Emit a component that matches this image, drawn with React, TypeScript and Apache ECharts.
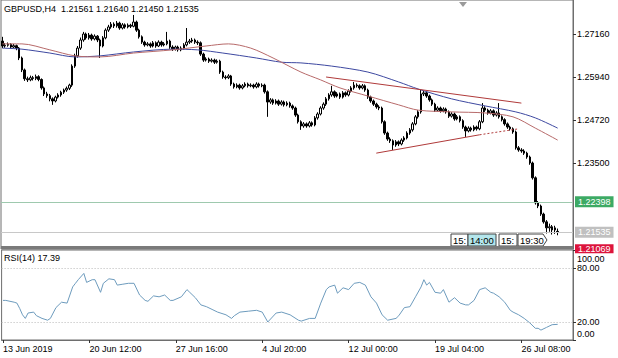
import React, { useEffect, useRef } from "react";
import * as echarts from "echarts";

const symbolTitle = "GBPUSD,H4  1.21561 1.21640 1.21450 1.21535";
const rsiTitle = "RSI(14) 17.39";

const tickIndex = [0, 31, 62, 93, 124, 155, 186];
const tickLabels = ["13 Jun 2019", "20 Jun 12:00", "27 Jun 16:00", "4 Jul 20:00", "12 Jul 00:00", "19 Jul 04:00", "26 Jul 08:00"];
const priceTicks = [1.235, 1.2472, 1.2594, 1.2716];
const rsiTicks = [0, 20, 80, 100];
const rsiLevels = [20, 80];

const levelPrice = 1.22398;
const bidPrice = 1.21535;
const lowPrice = 1.21069;

const slotCount = 205;

// [open, close, low, high]
const candles: number[][] = [
  [1.2696, 1.2682, 1.2676, 1.2708], [1.2682, 1.2684, 1.2677, 1.2690], [1.2684, 1.2687, 1.2680, 1.2692], [1.2687, 1.2679, 1.2675, 1.2690],
  [1.2679, 1.2683, 1.2676, 1.2688], [1.2683, 1.2676, 1.2670, 1.2686], [1.2676, 1.2648, 1.2642, 1.2679], [1.2648, 1.2614, 1.2608, 1.2652],
  [1.2614, 1.2589, 1.2583, 1.2618], [1.2589, 1.2586, 1.2580, 1.2595], [1.2586, 1.2592, 1.2582, 1.2598], [1.2592, 1.2590, 1.2584, 1.2597],
  [1.2590, 1.2595, 1.2585, 1.2601], [1.2595, 1.2587, 1.2582, 1.2599], [1.2587, 1.2563, 1.2558, 1.2590], [1.2563, 1.2546, 1.2540, 1.2567],
  [1.2546, 1.2541, 1.2535, 1.2552], [1.2541, 1.2532, 1.2525, 1.2546], [1.2532, 1.2526, 1.2515, 1.2536], [1.2526, 1.2537, 1.2522, 1.2541],
  [1.2537, 1.2543, 1.2533, 1.2548], [1.2543, 1.2551, 1.2538, 1.2555], [1.2551, 1.2557, 1.2546, 1.2561], [1.2557, 1.2562, 1.2552, 1.2567],
  [1.2562, 1.2571, 1.2557, 1.2575], [1.2571, 1.2625, 1.2566, 1.2630], [1.2625, 1.2654, 1.2620, 1.2660], [1.2654, 1.2676, 1.2649, 1.2682],
  [1.2676, 1.2699, 1.2671, 1.2706], [1.2699, 1.2716, 1.2694, 1.2722], [1.2716, 1.2705, 1.2700, 1.2720], [1.2705, 1.2713, 1.2700, 1.2719],
  [1.2713, 1.2702, 1.2697, 1.2717], [1.2702, 1.2710, 1.2698, 1.2715], [1.2710, 1.2699, 1.2693, 1.2713], [1.2699, 1.2682, 1.2648, 1.2703],
  [1.2682, 1.2705, 1.2678, 1.2710], [1.2705, 1.2727, 1.2701, 1.2732], [1.2727, 1.2736, 1.2722, 1.2742], [1.2736, 1.2744, 1.2731, 1.2750],
  [1.2744, 1.2739, 1.2733, 1.2749], [1.2739, 1.2747, 1.2734, 1.2753], [1.2747, 1.2733, 1.2728, 1.2751], [1.2733, 1.2742, 1.2729, 1.2747],
  [1.2742, 1.2736, 1.2731, 1.2746], [1.2736, 1.2741, 1.2732, 1.2746], [1.2741, 1.2738, 1.2733, 1.2745], [1.2738, 1.2750, 1.2735, 1.2770],
  [1.2750, 1.2727, 1.2722, 1.2754], [1.2727, 1.2708, 1.2703, 1.2731], [1.2708, 1.2693, 1.2688, 1.2712], [1.2693, 1.2685, 1.2680, 1.2697],
  [1.2685, 1.2688, 1.2681, 1.2693], [1.2688, 1.2682, 1.2677, 1.2692], [1.2682, 1.2691, 1.2678, 1.2696], [1.2691, 1.2682, 1.2677, 1.2695],
  [1.2682, 1.2693, 1.2679, 1.2698], [1.2693, 1.2685, 1.2680, 1.2697], [1.2685, 1.2688, 1.2681, 1.2693], [1.2688, 1.2696, 1.2684, 1.2722],
  [1.2696, 1.2679, 1.2674, 1.2700], [1.2679, 1.2673, 1.2668, 1.2684], [1.2673, 1.2679, 1.2669, 1.2683], [1.2679, 1.2671, 1.2666, 1.2683],
  [1.2671, 1.2676, 1.2667, 1.2681], [1.2676, 1.2685, 1.2672, 1.2690], [1.2685, 1.2693, 1.2681, 1.2733], [1.2693, 1.2696, 1.2688, 1.2702],
  [1.2696, 1.2699, 1.2691, 1.2705], [1.2699, 1.2693, 1.2688, 1.2703], [1.2693, 1.2691, 1.2685, 1.2698], [1.2691, 1.2659, 1.2654, 1.2695],
  [1.2659, 1.2642, 1.2637, 1.2663], [1.2642, 1.2645, 1.2638, 1.2650], [1.2645, 1.2639, 1.2634, 1.2649], [1.2639, 1.2642, 1.2635, 1.2647],
  [1.2642, 1.2636, 1.2631, 1.2646], [1.2636, 1.2639, 1.2632, 1.2644], [1.2639, 1.2608, 1.2603, 1.2643], [1.2608, 1.2594, 1.2589, 1.2612],
  [1.2594, 1.2592, 1.2587, 1.2599], [1.2592, 1.2597, 1.2588, 1.2602], [1.2597, 1.2574, 1.2569, 1.2600], [1.2574, 1.2566, 1.2561, 1.2578],
  [1.2566, 1.2571, 1.2562, 1.2576], [1.2571, 1.2563, 1.2558, 1.2575], [1.2563, 1.2569, 1.2559, 1.2574], [1.2569, 1.2574, 1.2565, 1.2579],
  [1.2574, 1.2569, 1.2564, 1.2578], [1.2569, 1.2571, 1.2565, 1.2576], [1.2571, 1.2566, 1.2561, 1.2575], [1.2566, 1.2574, 1.2562, 1.2579],
  [1.2574, 1.2569, 1.2564, 1.2578], [1.2569, 1.2571, 1.2565, 1.2576], [1.2571, 1.2552, 1.2547, 1.2575], [1.2552, 1.2523, 1.2481, 1.2556],
  [1.2523, 1.2529, 1.2518, 1.2534], [1.2529, 1.2520, 1.2515, 1.2533], [1.2520, 1.2526, 1.2516, 1.2531], [1.2526, 1.2517, 1.2512, 1.2530],
  [1.2517, 1.2523, 1.2513, 1.2528], [1.2523, 1.2515, 1.2510, 1.2527], [1.2515, 1.2520, 1.2511, 1.2525], [1.2520, 1.2512, 1.2507, 1.2524],
  [1.2512, 1.2506, 1.2501, 1.2516], [1.2506, 1.2486, 1.2481, 1.2510], [1.2486, 1.2467, 1.2462, 1.2490], [1.2467, 1.2455, 1.2444, 1.2471],
  [1.2455, 1.2461, 1.2450, 1.2466], [1.2461, 1.2455, 1.2450, 1.2465], [1.2455, 1.2464, 1.2451, 1.2469], [1.2464, 1.2458, 1.2453, 1.2468],
  [1.2458, 1.2478, 1.2454, 1.2483], [1.2478, 1.2489, 1.2473, 1.2494], [1.2489, 1.2506, 1.2485, 1.2511], [1.2506, 1.2517, 1.2501, 1.2522],
  [1.2517, 1.2532, 1.2512, 1.2537], [1.2532, 1.2543, 1.2527, 1.2548], [1.2543, 1.2552, 1.2538, 1.2569], [1.2552, 1.2540, 1.2535, 1.2556],
  [1.2540, 1.2546, 1.2536, 1.2551], [1.2546, 1.2537, 1.2532, 1.2550], [1.2537, 1.2549, 1.2533, 1.2554], [1.2549, 1.2543, 1.2538, 1.2553],
  [1.2543, 1.2554, 1.2539, 1.2559], [1.2554, 1.2563, 1.2550, 1.2568], [1.2563, 1.2571, 1.2558, 1.2580], [1.2571, 1.2569, 1.2564, 1.2576],
  [1.2569, 1.2563, 1.2558, 1.2573], [1.2563, 1.2569, 1.2559, 1.2574], [1.2569, 1.2557, 1.2552, 1.2573], [1.2557, 1.2537, 1.2532, 1.2561],
  [1.2537, 1.2526, 1.2521, 1.2541], [1.2526, 1.2517, 1.2512, 1.2530], [1.2517, 1.2509, 1.2504, 1.2521], [1.2509, 1.2506, 1.2500, 1.2514],
  [1.2506, 1.2467, 1.2462, 1.2510], [1.2467, 1.2435, 1.2430, 1.2471], [1.2435, 1.2418, 1.2413, 1.2439], [1.2418, 1.2413, 1.2407, 1.2423],
  [1.2413, 1.2401, 1.2387, 1.2417], [1.2401, 1.2410, 1.2396, 1.2415], [1.2410, 1.2404, 1.2398, 1.2414], [1.2404, 1.2415, 1.2400, 1.2420],
  [1.2415, 1.2421, 1.2410, 1.2426], [1.2421, 1.2435, 1.2417, 1.2440], [1.2435, 1.2444, 1.2430, 1.2449], [1.2444, 1.2461, 1.2439, 1.2466],
  [1.2461, 1.2481, 1.2457, 1.2486], [1.2481, 1.2495, 1.2476, 1.2500], [1.2495, 1.2546, 1.2490, 1.2557], [1.2546, 1.2549, 1.2540, 1.2555],
  [1.2549, 1.2540, 1.2535, 1.2553], [1.2540, 1.2529, 1.2524, 1.2544], [1.2529, 1.2517, 1.2512, 1.2533], [1.2517, 1.2500, 1.2495, 1.2521],
  [1.2500, 1.2506, 1.2496, 1.2511], [1.2506, 1.2498, 1.2493, 1.2510], [1.2498, 1.2503, 1.2494, 1.2508], [1.2503, 1.2495, 1.2490, 1.2507],
  [1.2495, 1.2483, 1.2478, 1.2499], [1.2483, 1.2489, 1.2479, 1.2494], [1.2489, 1.2475, 1.2470, 1.2493], [1.2475, 1.2481, 1.2471, 1.2486],
  [1.2481, 1.2470, 1.2465, 1.2485], [1.2470, 1.2452, 1.2447, 1.2474], [1.2452, 1.2441, 1.2424, 1.2456], [1.2441, 1.2449, 1.2437, 1.2454],
  [1.2449, 1.2444, 1.2439, 1.2453], [1.2444, 1.2452, 1.2440, 1.2457], [1.2452, 1.2447, 1.2442, 1.2456], [1.2447, 1.2467, 1.2443, 1.2472],
  [1.2467, 1.2506, 1.2463, 1.2520], [1.2506, 1.2500, 1.2495, 1.2511], [1.2500, 1.2492, 1.2487, 1.2504], [1.2492, 1.2498, 1.2488, 1.2503],
  [1.2498, 1.2486, 1.2481, 1.2502], [1.2486, 1.2492, 1.2482, 1.2497], [1.2492, 1.2481, 1.2476, 1.2520], [1.2481, 1.2473, 1.2468, 1.2485],
  [1.2473, 1.2461, 1.2456, 1.2477], [1.2461, 1.2452, 1.2447, 1.2465], [1.2452, 1.2447, 1.2442, 1.2456], [1.2447, 1.2438, 1.2433, 1.2451],
  [1.2438, 1.2393, 1.2388, 1.2442], [1.2393, 1.2387, 1.2382, 1.2398], [1.2387, 1.2384, 1.2379, 1.2392], [1.2384, 1.2378, 1.2373, 1.2389],
  [1.2378, 1.2367, 1.2362, 1.2382], [1.2367, 1.2350, 1.2345, 1.2371], [1.2350, 1.2308, 1.2303, 1.2354], [1.2308, 1.2237, 1.2232, 1.2312],
  [1.2237, 1.2228, 1.2222, 1.2242], [1.2228, 1.2205, 1.2200, 1.2232], [1.2205, 1.2183, 1.2178, 1.2209], [1.2183, 1.2166, 1.2150, 1.2188],
  [1.2166, 1.2169, 1.2155, 1.2178], [1.2169, 1.2160, 1.2147, 1.2174], [1.2160, 1.2166, 1.2149, 1.2172], [1.21561, 1.21535, 1.2145, 1.2164],
];

// moving averages: [bar index, price]
const maFast: number[][] = [
  [0, 1.2688], [7, 1.2688], [17, 1.2671], [26, 1.2654], [35, 1.2651], [47, 1.2662], [61, 1.2671], [73, 1.2682],
  [81, 1.2688], [89, 1.2676], [97, 1.2648], [107, 1.2608], [114, 1.2586], [121, 1.2563], [131, 1.2540], [142, 1.2515],
  [149, 1.2500], [161, 1.2495], [173, 1.2492], [183, 1.2481], [191, 1.2449], [199, 1.2415],
];
const maSlow: number[][] = [
  [0, 1.2676], [7, 1.2673], [17, 1.2662], [26, 1.2651], [35, 1.2654], [47, 1.2665], [61, 1.2673], [70, 1.2671],
  [79, 1.2662], [91, 1.2648], [100, 1.2636], [107, 1.2634], [118, 1.2625], [131, 1.2608], [142, 1.2580], [149, 1.2560],
  [161, 1.2532], [173, 1.2512], [184, 1.2495], [191, 1.2478], [199, 1.2449],
];

// trend lines: [startIndex, startPrice, endIndex, endPrice]
const upperTrend = [116, 1.2594, 186, 1.2520];
const lowerTrend = [134, 1.2378, 171, 1.2430];
const lowerTrendExt = [171, 1.2430, 185, 1.2447];

// RSI(14): [bar index, value]
const rsiPoints: number[][] = [
  [0, 44], [1, 44], [4, 42], [5, 41], [6, 35], [7, 28], [8, 24], [9, 30], [11, 31], [12, 27], [14, 24], [16, 22],
  [17, 24], [19, 36], [21, 42], [23, 41], [25, 59], [26, 63], [27, 67], [29, 74], [30, 64], [32, 67], [33, 67],
  [35, 53], [36, 63], [38, 68], [40, 67], [41, 61], [43, 62], [45, 63], [47, 63], [49, 50], [51, 44], [52, 43],
  [54, 49], [56, 48], [58, 50], [60, 44], [61, 44], [64, 48], [66, 56], [67, 53], [69, 47], [71, 39], [73, 37],
  [75, 34], [77, 31], [80, 28], [82, 24], [83, 27], [85, 31], [88, 32], [91, 33], [93, 31], [95, 20], [98, 30],
  [100, 31], [103, 28], [106, 22], [107, 21], [110, 24], [112, 24], [114, 41], [116, 56], [117, 59], [119, 61],
  [120, 52], [122, 58], [124, 56], [126, 63], [128, 64], [130, 61], [132, 48], [134, 41], [136, 28], [138, 22],
  [141, 24], [142, 27], [144, 36], [146, 37], [148, 48], [150, 59], [151, 67], [152, 61], [153, 64], [155, 53],
  [157, 52], [158, 56], [160, 42], [162, 47], [164, 41], [166, 39], [167, 39], [169, 44], [171, 56], [173, 58],
  [175, 53], [176, 52], [178, 48], [180, 42], [182, 33], [183, 31], [185, 28], [187, 24], [189, 19], [191, 13],
  [192, 13], [193, 11], [195, 14], [197, 17], [199, 17.39],
];

const categories: string[] = [];
{
  let t = Date.UTC(2019, 5, 13, 8);
  while (categories.length < slotCount) {
    const d = new Date(t);
    const wd = d.getUTCDay();
    if (wd !== 0 && wd !== 6) categories.push(d.toISOString().slice(0, 16));
    t += 4 * 3600 * 1000;
  }
}

const FONT = "'Liberation Sans', Arial, sans-serif";

export default function App() {
  const ref = useRef<HTMLDivElement>(null);
  useEffect(() => {
    if (!ref.current) return;
    const chart = echarts.init(ref.current, undefined, { renderer: "svg" });
    const trendStyle = { color: "#b03a3a", width: 1, type: "solid" as const };
    const labelBox = (bg: string, txt: string, pad: number[]) => ({
      show: true,
      position: "end" as const,
      formatter: txt,
      backgroundColor: bg,
      color: "#ffffff",
      padding: pad,
      fontSize: 9,
      fontFamily: FONT,
      distance: 2,
    });
    const option: any = {
      animation: false,
      backgroundColor: "#ffffff",
      grid: [
        { left: 1, right: 45, top: 0, height: 249, show: true, borderColor: "#6e6e6e", borderWidth: 1 },
        { left: 1, right: 45, top: 250, height: 90, show: true, borderColor: "#6e6e6e", borderWidth: 1 },
      ],
      xAxis: [
        { type: "category", gridIndex: 0, data: categories, boundaryGap: true, show: false },
        {
          type: "category",
          gridIndex: 1,
          data: categories,
          boundaryGap: true,
          axisLine: { show: true, lineStyle: { color: "#6e6e6e" } },
          axisTick: {
            show: true,
            interval: (i: number) => tickIndex.includes(i),
            alignWithLabel: true,
            length: 3,
            lineStyle: { color: "#333" },
          },
          axisLabel: {
            interval: (i: number) => tickIndex.includes(i),
            formatter: (_v: string, i: number) => {
              const k = tickIndex.indexOf(i);
              return k >= 0 ? tickLabels[k] : "";
            },
            align: "left",
            color: "#000",
            fontSize: 9,
            fontFamily: FONT,
            margin: 4,
          },
          splitLine: { show: false },
        },
      ],
      yAxis: [
        {
          type: "value",
          gridIndex: 0,
          position: "right",
          min: 1.2106,
          max: 1.28125,
          splitLine: { show: false },
          axisLine: { show: true, lineStyle: { color: "#6e6e6e" } },
          axisTick: { show: true, customValues: priceTicks, length: 3, lineStyle: { color: "#333" } },
          axisLabel: {
            customValues: priceTicks,
            formatter: (v: number) => v.toFixed(5),
            color: "#000",
            fontSize: 9,
            fontFamily: FONT,
            margin: 4,
          },
        },
        {
          type: "value",
          gridIndex: 1,
          position: "right",
          min: 0,
          max: 100,
          splitLine: { show: false },
          axisLine: { show: true, lineStyle: { color: "#6e6e6e" } },
          axisTick: { show: true, customValues: rsiTicks, length: 3, lineStyle: { color: "#333" } },
          axisLabel: {
            customValues: rsiTicks,
            formatter: (v: number) =>
              v === 100 ? "{t|100.00}" : v === 0 ? "{b|0.00}" : v.toFixed(2),
            color: "#000",
            fontSize: 9,
            fontFamily: FONT,
            margin: 4,
            rich: {
              t: { padding: [18, 0, 0, 0], fontSize: 9, fontFamily: FONT, color: "#000" },
              b: { padding: [0, 0, 12, 0], fontSize: 9, fontFamily: FONT, color: "#000" },
            },
          },
        },
      ],
      series: [
        {
          type: "candlestick",
          xAxisIndex: 0,
          yAxisIndex: 0,
          data: candles,
          barWidth: 2,
          itemStyle: {
            color: "#ffffff",
            color0: "#000000",
            borderColor: "#000000",
            borderColor0: "#000000",
            borderWidth: 1,
          },
          z: 3,
          markLine: {
            symbol: ["none", "none"],
            silent: true,
            animation: false,
            precision: 5,
            data: [
              { yAxis: levelPrice, lineStyle: { color: "#9ec9ae", width: 1, type: "solid" }, label: labelBox("#3daa64", levelPrice.toFixed(5), [1, 3, 1, 3]) },
              { yAxis: bidPrice, lineStyle: { color: "#c8c8c8", width: 1, type: "solid" }, label: labelBox("#c0c0c0", bidPrice.toFixed(5), [1, 3, 1, 3]) },
              { yAxis: lowPrice, lineStyle: { color: "rgba(0,0,0,0)", width: 1, type: "solid" }, label: labelBox("#dc143c", lowPrice.toFixed(5), [0, 3, 0, 3]) },
              [
                { coord: [upperTrend[0], upperTrend[1]], lineStyle: trendStyle, label: { show: false } },
                { coord: [upperTrend[2], upperTrend[3]] },
              ],
              [
                { coord: [lowerTrend[0], lowerTrend[1]], lineStyle: trendStyle, label: { show: false } },
                { coord: [lowerTrend[2], lowerTrend[3]] },
              ],
              [
                { coord: [lowerTrendExt[0], lowerTrendExt[1]], lineStyle: { color: "#b03a3a", width: 1, type: [2, 2] }, label: { show: false } },
                { coord: [lowerTrendExt[2], lowerTrendExt[3]] },
              ],
            ],
          },
        },
        {
          type: "line",
          xAxisIndex: 0,
          yAxisIndex: 0,
          data: maSlow,
          showSymbol: false,
          smooth: 0.3,
          lineStyle: { color: "#3d48a0", width: 1 },
          z: 4,
        },
        {
          type: "line",
          xAxisIndex: 0,
          yAxisIndex: 0,
          data: maFast,
          showSymbol: false,
          smooth: 0.3,
          lineStyle: { color: "#b76a6a", width: 1 },
          z: 4,
        },
        {
          type: "line",
          xAxisIndex: 1,
          yAxisIndex: 1,
          data: rsiPoints,
          showSymbol: false,
          lineStyle: { color: "#6d9bbd", width: 1 },
          markLine: {
            symbol: ["none", "none"],
            silent: true,
            animation: false,
            label: { show: false },
            data: rsiLevels.map((v) => ({ yAxis: v, lineStyle: { color: "#b8b8b8", width: 1, type: [1, 2] } })),
          },
        },
      ],
      graphic: [
        { type: "rect", z: 1, shape: { x: 1, y: 246, width: 572, height: 3 }, style: { fill: "#7a7a7a" } },
        { type: "text", z: 50, left: 4, top: 4, style: { text: symbolTitle, fontSize: 9, fontFamily: FONT, fill: "#000" } },
        { type: "text", z: 50, left: 4, top: 253, style: { text: rsiTitle, fontSize: 9, fontFamily: FONT, fill: "#000" } },
        { type: "polygon", z: 50, shape: { points: [[459, 2], [467, 2], [463, 7]] }, style: { fill: "#9a9a9a" } },
        {
          type: "group",
          z: 60,
          children: [
            { type: "rect", shape: { x: 451, y: 234, width: 17, height: 12 }, style: { fill: "#ffffff", stroke: "#444", lineWidth: 1 } },
            { type: "text", x: 453, y: 240, style: { text: "15:", fontSize: 9.5, fontFamily: FONT, fill: "#000", verticalAlign: "middle" } },
            { type: "rect", shape: { x: 468, y: 234, width: 28, height: 12 }, style: { fill: "#b4e6ec", stroke: "#444", lineWidth: 1 } },
            { type: "text", x: 470, y: 240, style: { text: "14:00", fontSize: 9.5, fontFamily: FONT, fill: "#000", verticalAlign: "middle" } },
            { type: "rect", shape: { x: 499, y: 234, width: 18, height: 12 }, style: { fill: "#ffffff", stroke: "#444", lineWidth: 1 } },
            { type: "text", x: 501, y: 240, style: { text: "15:", fontSize: 9.5, fontFamily: FONT, fill: "#000", verticalAlign: "middle" } },
            { type: "polygon", shape: { points: [[518, 234], [543, 234], [547, 240], [543, 246], [518, 246]] }, style: { fill: "#ffffff", stroke: "#444", lineWidth: 1 } },
            { type: "text", x: 520, y: 240, style: { text: "19:30", fontSize: 9.5, fontFamily: FONT, fill: "#000", verticalAlign: "middle" } },
          ],
        },
      ],
    };
    chart.setOption(option);
    return () => chart.dispose();
  }, []);
  return (
    <div
      ref={ref}
      style={{ position: "fixed", left: 0, top: 0, width: 618, height: 358, background: "#fff" }}
    />
  );
}
